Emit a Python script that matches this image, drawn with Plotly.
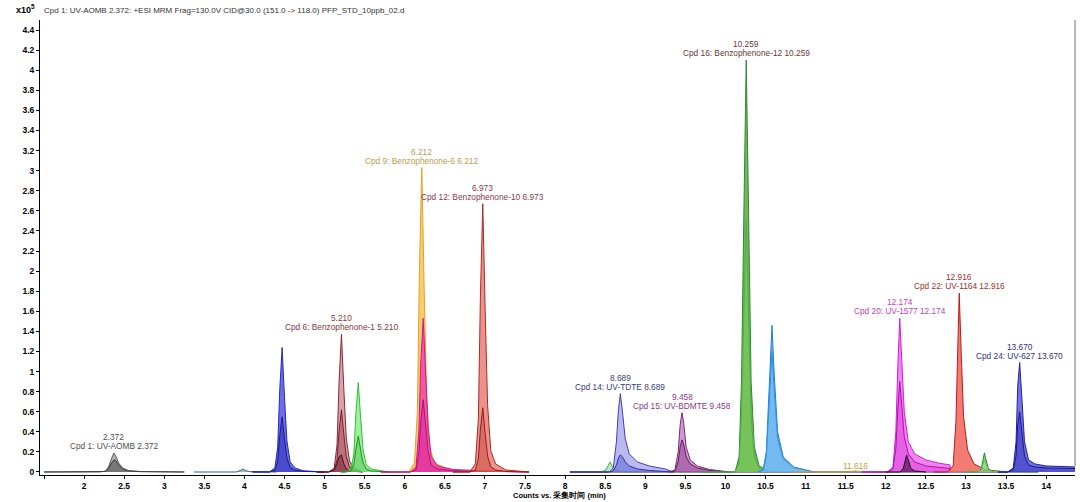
import plotly.graph_objects as go

# ---------------- data (time in min, intensity in x10^5 counts) ----------------
T_C1 = [1.50, 2.20, 2.27, 2.31, 2.34, 2.372, 2.40, 2.43, 2.48, 2.55, 2.70, 3.25]
I_C1 = [0, 0, 0.01, 0.06, 0.13, 0.19, 0.15, 0.09, 0.04, 0.015, 0.005, 0]
I_C1B = [0, 0, 0.005, 0.04, 0.09, 0.12, 0.11, 0.07, 0.03, 0.01, 0.003, 0]

T_P398 = [3.37, 3.90, 3.95, 3.98, 4.01, 4.06, 4.40]
I_P398 = [0, 0, 0.015, 0.03, 0.015, 0.003, 0]

T_P447 = [4.10, 4.31, 4.38, 4.415, 4.44, 4.47, 4.50, 4.53, 4.57, 4.63, 4.73, 5.00]
I_P447 = [0, 0, 0.04, 0.25, 0.81, 1.24, 0.74, 0.31, 0.10, 0.04, 0.012, 0]
I_P447B = [0, 0, 0.017, 0.11, 0.36, 0.55, 0.33, 0.14, 0.044, 0.017, 0.006, 0]

T_C6 = [4.90, 5.05, 5.12, 5.155, 5.18, 5.21, 5.24, 5.27, 5.31, 5.37, 5.47]
I_C6 = [0, 0, 0.04, 0.27, 0.89, 1.37, 0.82, 0.34, 0.11, 0.04, 0]
I_C6B = [0, 0, 0.02, 0.12, 0.40, 0.62, 0.37, 0.155, 0.05, 0.02, 0]
I_C6C = [0, 0, 0.02, 0.08, 0.15, 0.17, 0.08, 0.03, 0.01, 0.005, 0]

T_P542 = [5.20, 5.26, 5.33, 5.365, 5.39, 5.42, 5.45, 5.48, 5.52, 5.58, 5.80]
I_P542 = [0, 0, 0.03, 0.18, 0.58, 0.89, 0.53, 0.22, 0.07, 0.03, 0]
I_P542B = [0, 0, 0.01, 0.07, 0.23, 0.36, 0.22, 0.09, 0.03, 0.01, 0]

T_C9 = [5.80, 6.05, 6.12, 6.157, 6.182, 6.212, 6.242, 6.272, 6.312, 6.372, 6.60]
I_C9 = [0, 0, 0.09, 0.6, 1.97, 3.03, 1.82, 0.76, 0.24, 0.09, 0]

T_P623 = [5.70, 6.07, 6.14, 6.175, 6.20, 6.23, 6.26, 6.29, 6.33, 6.41, 6.60, 7.00, 7.55]
I_P623 = [0, 0, 0.05, 0.4, 1.1, 1.53, 1.0, 0.45, 0.15, 0.06, 0.025, 0.01, 0]
I_P623B = [0, 0, 0.02, 0.18, 0.5, 0.72, 0.47, 0.21, 0.07, 0.03, 0.012, 0.005, 0]

T_C12 = [6.60, 6.81, 6.88, 6.918, 6.943, 6.973, 7.003, 7.033, 7.073, 7.133, 7.26, 7.55]
I_C12 = [0, 0, 0.08, 0.53, 1.74, 2.67, 1.6, 0.67, 0.21, 0.08, 0.02, 0]
I_C12B = [0, 0, 0.02, 0.13, 0.42, 0.64, 0.38, 0.16, 0.05, 0.02, 0.005, 0]

T_BASE_R = [8.06, 13.90]
I_BASE_R = [0, 0]

T_P856 = [8.06, 8.45, 8.51, 8.54, 8.56, 8.585, 8.62, 8.70, 8.90]
I_P856 = [0, 0, 0.02, 0.07, 0.10, 0.06, 0.02, 0.005, 0]

T_C14 = [8.06, 8.55, 8.60, 8.64, 8.665, 8.689, 8.715, 8.75, 8.80, 8.90, 9.05, 9.25, 9.35]
I_C14 = [0, 0, 0.04, 0.30, 0.62, 0.78, 0.60, 0.33, 0.18, 0.10, 0.06, 0.03, 0]
I_C14B = [0, 0, 0.01, 0.07, 0.14, 0.17, 0.15, 0.10, 0.06, 0.03, 0.015, 0.007, 0]

T_C15 = [9.30, 9.37, 9.41, 9.435, 9.458, 9.48, 9.51, 9.56, 9.65, 9.80, 10.05]
I_C15 = [0, 0.02, 0.2, 0.47, 0.59, 0.48, 0.25, 0.12, 0.06, 0.025, 0]
I_C15B = [0, 0.01, 0.1, 0.25, 0.32, 0.27, 0.15, 0.08, 0.04, 0.015, 0]

T_C16 = [9.70, 10.12, 10.17, 10.20, 10.23, 10.259, 10.29, 10.32, 10.36, 10.42, 10.55]
I_C16 = [0, 0, 0.15, 0.9, 2.6, 4.1, 2.5, 0.9, 0.25, 0.06, 0]
I_C16B = [0, 0, 0.09, 0.55, 1.6, 2.5, 1.52, 0.55, 0.15, 0.04, 0]

T_P1058 = [10.40, 10.47, 10.51, 10.55, 10.58, 10.61, 10.65, 10.72, 10.85, 11.00, 11.10]
I_P1058 = [0, 0.02, 0.2, 0.9, 1.46, 0.95, 0.4, 0.15, 0.05, 0.02, 0]
I_P1058B = [0, 0.015, 0.16, 0.74, 1.2, 0.8, 0.34, 0.13, 0.045, 0.02, 0]

T_P1162 = [10.80, 11.55, 11.60, 11.62, 11.65, 11.90]
I_P1162 = [0, 0, 0.008, 0.012, 0.005, 0]

T_C20 = [11.70, 12.02, 12.09, 12.125, 12.15, 12.174, 12.20, 12.23, 12.28, 12.36, 12.50, 12.65, 12.80, 12.81]
I_C20 = [0, 0, 0.05, 0.4, 1.05, 1.53, 1.1, 0.6, 0.3, 0.18, 0.12, 0.09, 0.07, 0]
I_C20B = [0, 0, 0.03, 0.23, 0.62, 0.9, 0.65, 0.35, 0.18, 0.1, 0.06, 0.045, 0.035, 0]

T_P1226 = [12.00, 12.18, 12.22, 12.245, 12.26, 12.28, 12.31, 12.36, 12.50]
I_P1226 = [0, 0, 0.04, 0.12, 0.17, 0.12, 0.04, 0.01, 0]

T_C22 = [12.60, 12.77, 12.84, 12.875, 12.90, 12.916, 12.94, 12.97, 13.02, 13.10, 13.25, 13.50]
I_C22 = [0, 0, 0.06, 0.5, 1.3, 1.78, 1.2, 0.55, 0.22, 0.08, 0.02, 0]

T_P1323 = [13.00, 13.15, 13.19, 13.21, 13.23, 13.25, 13.28, 13.33, 13.90]
I_P1323 = [0, 0, 0.03, 0.12, 0.19, 0.12, 0.03, 0.008, 0]
I_P1323B = [0, 0, 0.02, 0.08, 0.13, 0.08, 0.02, 0.005, 0]

T_C24 = [13.40, 13.52, 13.59, 13.625, 13.645, 13.67, 13.70, 13.73, 13.78, 13.86, 14.00, 14.36]
I_C24 = [0, 0, 0.04, 0.3, 0.85, 1.09, 0.7, 0.3, 0.12, 0.08, 0.06, 0.05]
I_C24B = [0, 0, 0.02, 0.16, 0.46, 0.6, 0.38, 0.16, 0.07, 0.05, 0.04, 0.035]

# peak labels
LABEL_RT = [2.372, 5.210, 6.212, 6.973, 8.689, 9.458, 10.259, 12.174, 12.916, 13.670]
LABEL_H = [0.19, 1.37, 3.03, 2.67, 0.78, 0.59, 4.10, 1.53, 1.78, 1.09]
LABEL_TOP = ["2.372", "5.210", "6.212", "6.973", "8.689", "9.458", "10.259", "12.174", "12.916", "13.670"]
LABEL_NAME = ["Cpd 1: UV-AOMB 2.372", "Cpd 6: Benzophenone-1 5.210", "Cpd 9: Benzophenone-6 6.212",
              "Cpd 12: Benzophenone-10 6.973", "Cpd 14: UV-TDTE 8.689", "Cpd 15: UV-BDMTE 9.458",
              "Cpd 16: Benzophenone-12 10.259", "Cpd 20: UV-1577 12.174", "Cpd 22: UV-1164 12.916",
              "Cpd 24: UV-627 13.670"]
LABEL_COLOR = ["#505050", "#8a3838", "#b8a050", "#8a3a4a", "#3a3a8a", "#8a3a8a",
               "#6a3a3a", "#c040c0", "#a03030", "#30308a"]

SMALL_RT = 11.616
SMALL_TEXT = "11.616"

X_TICKS = [2, 2.5, 3, 3.5, 4, 4.5, 5, 5.5, 6, 6.5, 7, 7.5, 8, 8.5, 9, 9.5, 10, 10.5, 11,
           11.5, 12, 12.5, 13, 13.5, 14]
X_TICKTEXT = ["2", "2.5", "3", "3.5", "4", "4.5", "5", "5.5", "6", "6.5", "7", "7.5", "8",
              "8.5", "9", "9.5", "10", "10.5", "11", "11.5", "12", "12.5", "13", "13.5", "14"]
X_MINOR = [1.5]

HEADER = "Cpd 1: UV-AOMB 2.372: +ESI MRM Frag=130.0V CID@30.0 (151.0 -> 118.0) PFP_STD_10ppb_02.d"
X_TITLE = "Counts vs. 采集时间 (min)"

# ---------------- styling: (x, y, line colour, fill colour) ----------------
series = [
    (T_C1, I_C1, "#606060", "rgba(150,150,150,0.75)"),
    (T_C1, I_C1B, "#404040", "rgba(95,95,95,0.7)"),
    (T_P398, I_P398, "#2a6a6a", "rgba(60,120,150,0.5)"),
    (T_P447, I_P447, "#2828c8", "rgba(60,60,220,0.75)"),
    (T_P447, I_P447B, "#1a1a90", "rgba(40,40,180,0.5)"),
    (T_C6, I_C6, "#8a2a3a", "rgba(190,100,110,0.6)"),
    (T_C6, I_C6B, "#7a2030", "rgba(160,60,80,0.5)"),
    (T_C6, I_C6C, "#501020", "rgba(110,30,50,0.5)"),
    (T_P542, I_P542, "#30c030", "rgba(110,230,110,0.65)"),
    (T_P542, I_P542B, "#209020", "rgba(80,200,80,0.5)"),
    (T_C9, I_C9, "#e8a020", "rgba(245,185,70,0.75)"),
    (T_P623, I_P623, "#d01890", "rgba(240,50,170,0.75)"),
    (T_P623, I_P623B, "#b01080", "rgba(220,40,160,0.6)"),
    (T_C12, I_C12, "#b02828", "rgba(230,100,90,0.7)"),
    (T_C12, I_C12B, "#902020", "rgba(200,70,60,0.5)"),
    (T_BASE_R, I_BASE_R, "#1a1a50", None),
    (T_P856, I_P856, "#40b040", "rgba(130,210,130,0.5)"),
    (T_C14, I_C14, "#4040b8", "rgba(140,140,230,0.6)"),
    (T_C14, I_C14B, "#3030a0", "rgba(90,90,210,0.5)"),
    (T_C15, I_C15, "#802880", "rgba(180,100,180,0.65)"),
    (T_C15, I_C15B, "#602060", "rgba(140,60,140,0.5)"),
    (T_C16, I_C16, "#2e8a2e", "rgba(100,175,70,0.9)"),
    (T_C16, I_C16B, "#50b050", "rgba(120,200,90,0.7)"),
    (T_P1058, I_P1058, "#2080d0", "rgba(90,170,235,0.8)"),
    (T_P1058, I_P1058B, "#3090e0", "rgba(110,185,240,0.6)"),
    (T_P1162, I_P1162, "#c8a030", None),
    (T_C20, I_C20, "#d020d0", "rgba(235,80,235,0.7)"),
    (T_C20, I_C20B, "#b010b0", "rgba(220,60,220,0.5)"),
    (T_P1226, I_P1226, "#200820", "rgba(90,30,90,0.75)"),
    (T_C22, I_C22, "#c01818", "rgba(240,100,90,0.85)"),
    (T_P1323, I_P1323, "#208a20", "rgba(90,190,90,0.6)"),
    (T_P1323, I_P1323B, "#60c060", "rgba(140,220,140,0.5)"),
    (T_C24, I_C24, "#2020a8", "rgba(70,70,215,0.75)"),
    (T_C24, I_C24B, "#18188a", "rgba(50,50,190,0.5)"),
]

FONT = "Liberation Sans, Arial, sans-serif"
LABEL_SIZE = 8.3

fig = go.Figure()
for xs, ys, lc, fc in series:
    fig.add_trace(go.Scatter(
        x=xs, y=ys, mode="lines", line=dict(color=lc, width=1),
        fill="tozeroy" if fc else None, fillcolor=fc, hoverinfo="skip", showlegend=False))

for rt, h, top, name, col in zip(LABEL_RT, LABEL_H, LABEL_TOP, LABEL_NAME, LABEL_COLOR):
    fig.add_annotation(x=rt, y=h, text=top, showarrow=False, yanchor="middle", yshift=16,
                       font=dict(family=FONT, size=LABEL_SIZE, color=col))
    fig.add_annotation(x=rt, y=h, text=name, showarrow=False, yanchor="middle", yshift=7,
                       font=dict(family=FONT, size=LABEL_SIZE, color=col))

fig.add_annotation(x=SMALL_RT, y=0, text=SMALL_TEXT, showarrow=False, yanchor="middle", yshift=6,
                   font=dict(family=FONT, size=LABEL_SIZE, color="#c0a040"))

fig.add_annotation(xref="paper", yref="paper", x=0.0015, y=1.0, xanchor="left", yanchor="bottom",
                   yshift=3, text=HEADER, showarrow=False,
                   font=dict(family=FONT, size=8, color="#333333"))
fig.add_annotation(xref="paper", yref="paper", x=-0.003, y=1.0, xanchor="right", yanchor="bottom",
                   yshift=3, text="<b>x10<sup>5</sup></b>", showarrow=False,
                   font=dict(family=FONT, size=9, color="#000000"))
fig.add_annotation(xref="paper", yref="paper", x=0.502, y=0, xanchor="center", yanchor="middle",
                   yshift=-20, text="<b>" + X_TITLE + "</b>", showarrow=False,
                   font=dict(family=FONT, size=7.5, color="#000000"))

fig.add_shape(type="line", xref="paper", yref="paper", x0=1, x1=1, y0=0.02, y1=1,
              line=dict(color="#a0a0a0", width=1.5))

fig.update_layout(
    width=1080, height=502,
    margin=dict(l=40, r=5, t=20, b=27),
    paper_bgcolor="white", plot_bgcolor="white",
    font=dict(family=FONT, size=9, color="#000000"),
    xaxis=dict(range=[1.45, 14.36], tickmode="array", tickvals=X_TICKS, ticktext=X_TICKTEXT,
               showgrid=False, zeroline=False, showline=True, linecolor="#000000", linewidth=1,
               ticks="outside", ticklen=3, tickcolor="#000000",
               minor=dict(tickmode="array", tickvals=X_MINOR, ticks="outside", ticklen=3,
                          tickcolor="#000000", showgrid=False),
               tickfont=dict(family=FONT, size=8.5, color="#000000", weight="bold")),
    yaxis=dict(range=[-0.03, 4.5], dtick=0.2, tick0=0,
               showgrid=False, zeroline=False, showline=True, linecolor="#000000", linewidth=1,
               ticks="outside", ticklen=3, tickcolor="#000000",
               tickfont=dict(family=FONT, size=8.5, color="#000000", weight="bold")),
)

fig.write_html("out.html")
